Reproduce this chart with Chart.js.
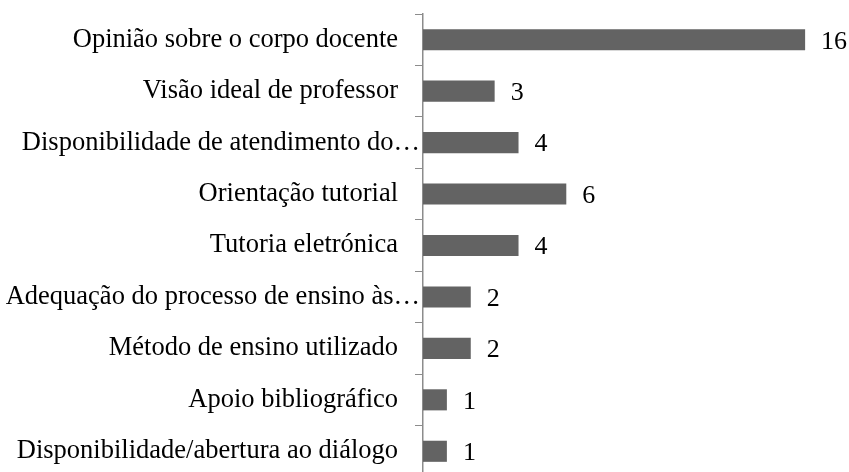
<!DOCTYPE html>
<html><head><meta charset="utf-8">
<script src="https://cdn.jsdelivr.net/npm/chart.js@4/dist/chart.umd.min.js"></script>
<style>html,body{margin:0;padding:0;background:#fff;overflow:hidden}#wrap{width:849px;height:480px}</style>
</head><body><div id="wrap"><canvas id="c" width="849" height="480"></canvas></div>
<script>
const categories = [
  "Opinião sobre o corpo docente",
  "Visão ideal de professor",
  "Disponibilidade de atendimento do…",
  "Orientação tutorial",
  "Tutoria eletrónica",
  "Adequação do processo de ensino às…",
  "Método de ensino utilizado",
  "Apoio bibliográfico",
  "Disponibilidade/abertura ao diálogo"
];
const values = [16, 3, 4, 6, 4, 2, 2, 1, 1];

const FONT = "'Liberation Serif', 'Times New Roman', serif";
const FSIZE = 26;
const valueLabels = {
  id: 'valueLabels',
  afterDatasetsDraw(chart) {
    const ctx = chart.ctx;
    const meta = chart.getDatasetMeta(0);
    ctx.save();
    ctx.font = FSIZE + 'px ' + FONT;
    ctx.fillStyle = '#000';
    ctx.textAlign = 'left';
    ctx.textBaseline = 'middle';
    meta.data.forEach((bar, i) => {
      ctx.fillText(String(values[i]), bar.x + 16, bar.y + 2);
    });
    ctx.restore();
  }
};
// truncated (ellipsis) labels run right up to the axis in the original
const shiftTruncated = {
  id: 'shiftTruncated',
  beforeDraw(chart) {
    const s = chart.scales.y;
    const items = s.getLabelItems();
    if (items._shifted) return;
    items.forEach(it => {
      if (String(it.label).endsWith('…')) it.options.translation[0] += 22;
    });
    items._shifted = true;
  }
};

new Chart(document.getElementById('c'), {
  type: 'bar',
  data: {
    labels: categories,
    datasets: [{
      data: values,
      backgroundColor: '#636363',
      borderWidth: 0,
      categoryPercentage: 1,
      barPercentage: 0.41
    }]
  },
  options: {
    indexAxis: 'y',
    responsive: false,
    animation: false,
    layout: { padding: { top: 14, right: 20, bottom: 3, left: 0 } },
    plugins: { legend: { display: false }, tooltip: { enabled: false } },
    scales: {
      x: { display: false, min: 0, max: 17 },
      y: {
        afterFit(scale) { scale.width = 423; scale.paddingTop = 0; scale.paddingBottom = 0; },
        grid: { display: true, drawOnChartArea: false, tickLength: 8, color: '#8c8c8c', offset: true },
        border: { display: true, color: '#8c8c8c', width: 1.5 },
        ticks: { color: '#000', padding: 17, font: { family: FONT, size: 26.5 } }
      }
    }
  },
  plugins: [valueLabels, shiftTruncated]
});
</script>
</body></html>
